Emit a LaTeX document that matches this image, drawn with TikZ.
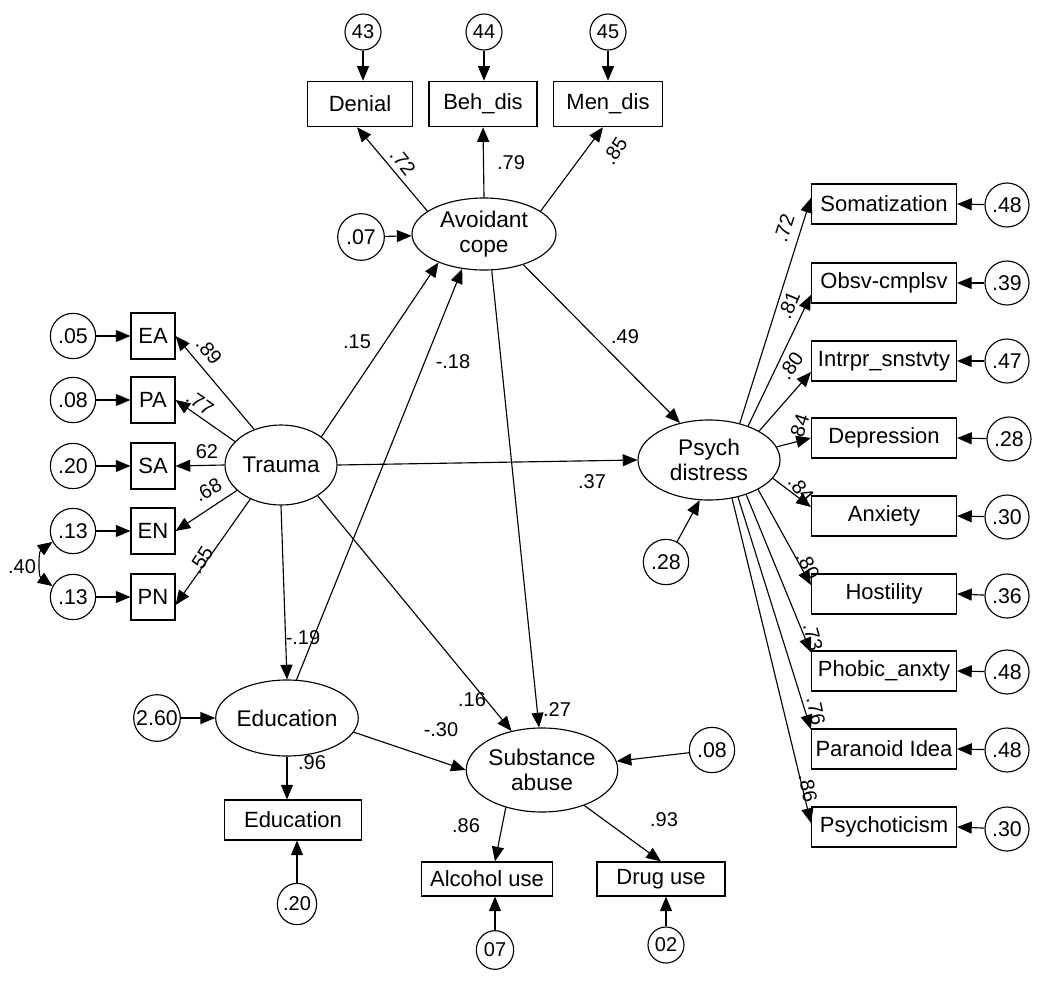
\documentclass[tikz,border=0pt]{standalone}
\usepackage{fontspec}
\setmainfont{Liberation Sans}
\usetikzlibrary{shapes.geometric,arrows.meta,calc}
\begin{document}
\begin{tikzpicture}[x=0.75pt,y=-0.75pt,
  obs/.style={draw,rectangle,inner sep=0pt,line width=0.85pt,font=\fontsize{16.5}{18}\selectfont},
  lat/.style={draw,ellipse,inner sep=0pt,line width=0.85pt,align=center,font=\fontsize{17}{18.5}\selectfont},
  err/.style={draw,circle,inner sep=0pt,line width=0.85pt,minimum size=34pt,font=\fontsize{16}{18}\selectfont},
  errs/.style={draw,ellipse,inner sep=0pt,line width=0.85pt,font=\fontsize{15}{17}\selectfont},
  arr/.style={-{Triangle[length=11pt,width=9pt]},line width=0.85pt},
  darr/.style={{Triangle[length=11pt,width=9pt]}-{Triangle[length=11pt,width=9pt]},line width=0.85pt},
  lab/.style={inner sep=0pt,font=\fontsize{15}{17}\selectfont}
]
\useasboundingbox (0,0) rectangle (1050,985);

% ---------- top: avoidant coping indicators ----------
\node[err,minimum size=27pt,font=\fontsize{15}{17}\selectfont] (c43) at (363,32) {43};
\node[err,minimum size=27pt,font=\fontsize{15}{17}\selectfont] (c44) at (484,32) {44};
\node[err,minimum size=27pt,font=\fontsize{15}{17}\selectfont] (c45) at (608,32) {45};
\node[obs,minimum width=79pt,minimum height=34pt] (denial) at (360,104) {Denial};
\node[obs,minimum width=81pt,minimum height=34pt] (behdis) at (483,104) {Beh\_dis};
\node[obs,minimum width=82pt,minimum height=34pt] (mendis) at (608,104) {Men\_dis};
\node[lat,minimum width=108pt,minimum height=54pt] (avoid) at (484,234) {Avoidant\\cope};
\node[err,minimum size=35pt] (e07) at (361,237) {.07};

\draw[arr] (c43) -- (c43 |- denial.north);
\draw[arr] (c44) -- (c44 |- behdis.north);
\draw[arr] (c45) -- (c45 |- mendis.north);
\draw[arr] (avoid.158) -- ($(denial.south)+(-3,0)$);
\draw[arr] (avoid.north) -- (behdis.south);
\draw[arr] (avoid.22) -- ($(mendis.south)+(-5,0)$);
\draw[arr] (e07) -- (avoid);
\node[lab,rotate=-52] (l72a) at (403,162) {.72};
\node[lab] (l79) at (511,163) {.79};
\node[lab,rotate=57] (l85) at (615,151) {.85};

% ---------- left: trauma indicators ----------
\node[lat,minimum width=84pt,minimum height=60pt] (trauma) at (281,465) {Trauma};
\node[obs,minimum width=33pt,minimum height=34.5pt] (ea) at (153,336) {EA};
\node[obs,minimum width=33pt,minimum height=34.5pt] (pa) at (153,400) {PA};
\node[obs,minimum width=33pt,minimum height=34.5pt] (sa) at (153,466) {SA};
\node[obs,minimum width=33pt,minimum height=34.5pt] (en) at (153,531) {EN};
\node[obs,minimum width=33pt,minimum height=34.5pt] (pn) at (153,597) {PN};
\node[err] (e1) at (73,336) {.05};
\node[err] (e2) at (73,400) {.08};
\node[err] (e3) at (73,466) {.20};
\node[err] (e4) at (73,531) {.13};
\node[err] (e5) at (73,597) {.13};
\draw[arr] (e1) -- (ea);
\draw[arr] (e2) -- (pa);
\draw[arr] (e3) -- (sa);
\draw[arr] (e4) -- (en);
\draw[arr] (e5) -- (pn);
\draw[arr] (trauma.127) -- (ea.east);
\draw[arr] (trauma.153) -- (pa.east);
\draw[arr] (trauma.west) -- (sa.east);
\draw[arr] (trauma.210) -- (en.east);
\draw[arr] (trauma.228) -- ($(pn.east)+(0,8)$);
\draw[darr] (e4.208) to[bend right=55] (e5.152);
\node[lab,rotate=-50] (l89) at (209,351) {.89};
\node[lab,rotate=-35] (l77) at (200,403) {.77};
\node[lab] (l62) at (207,452) {62};
\node[lab,rotate=30] (l68) at (208,490) {.68};
\node[lab,rotate=58] (l55) at (201,560) {.55};
\node[lab] (l40) at (22,567) {.40};

% ---------- centre: structural paths ----------
\node[lat,minimum width=106.5pt,minimum height=60pt] (psych) at (709,460) {Psych\\distress};
\node[err] (e28) at (666,562) {.28};
\node[lat,minimum width=93pt,minimum height=57pt] (educ) at (287,718) {Education};
\node[err,minimum size=35pt] (e260) at (157,718) {2.60};
\node[lat,minimum width=110pt,minimum height=63pt] (subst) at (542,770) {Substance\\abuse};
\node[err] (e08) at (712,750) {.08};
\node[obs,minimum width=103pt,minimum height=30pt] (educbox) at (293,820) {Education};
\node[errs,minimum width=28pt,minimum height=31pt] (e20) at (297,904) {.20};
\node[obs,minimum width=98pt,minimum height=25.5pt] (alcohol) at (487,879) {Alcohol use};
\node[obs,minimum width=96pt,minimum height=25.5pt] (drug) at (661,879) {Drug use};
\node[errs,minimum width=28pt,minimum height=29pt] (e07b) at (495,950) {07};
\node[errs,minimum width=27pt,minimum height=27pt] (e02) at (666,945) {02};

\draw[arr] (trauma.35) -- (avoid.212);
\draw[arr] (educ.76) -- (avoid.238);
\draw[arr] (avoid.282) -- (subst.94);
\draw[arr] (avoid.-38) -- (psych.128);
\draw[arr] (trauma.east) -- (psych.west);
\draw[arr] (trauma.south) -- (educ.north);
\draw[arr] (trauma.-40) -- (subst.128);
\draw[arr] (educ.-12) -- (subst.west);
\draw[arr] (e28) -- (psych.257);
\draw[arr] (e260) -- (educ);
\draw[arr] (educ) -- (educ |- educbox.north);
\draw[arr] (e20) -- (e20 |- educbox.south);
\draw[arr] (e08) -- (subst);
\draw[arr] (subst.226) -- ($(alcohol.north)+(8,0)$);
\draw[arr] (subst.-40) -- (drug.north);
\draw[arr] (e07b) -- (e07b |- alcohol.south);
\draw[arr] (e02) -- (e02 |- drug.south);

\node[lab] (l15) at (357,342) {.15};
\node[lab] (l18) at (453,362) {-.18};
\node[lab] (l49) at (625,337) {.49};
\node[lab] (l37) at (592,482) {.37};
\node[lab] (l19) at (303,638) {-.19};
\node[lab] (l16) at (472,700) {.16};
\node[lab] (l27) at (557,710) {.27};
\node[lab] (l30) at (441,730) {-.30};
\node[lab] (l96) at (312,763) {.96};
\node[lab] (l86) at (466,826) {.86};
\node[lab] (l93) at (664,820) {.93};

% ---------- right: psychological distress indicators ----------
\node[obs,minimum width=108.75pt,minimum height=30pt] (somat) at (884,204) {Somatization};
\node[obs,minimum width=108.75pt,minimum height=30pt] (obsv) at (884,283) {Obsv-cmplsv};
\node[obs,minimum width=108.75pt,minimum height=30pt] (intr) at (884,361) {Intrpr\_snstvty};
\node[obs,minimum width=108.75pt,minimum height=30pt] (depr) at (884,438) {Depression};
\node[obs,minimum width=108.75pt,minimum height=30pt] (anx) at (884,516) {Anxiety};
\node[obs,minimum width=108.75pt,minimum height=30pt] (host) at (884,594) {Hostility};
\node[obs,minimum width=108.75pt,minimum height=30pt] (phob) at (884,671) {Phobic\_anxty};
\node[obs,minimum width=108.75pt,minimum height=30pt] (para) at (884,749) {Paranoid Idea};
\node[obs,minimum width=108.75pt,minimum height=30pt] (psyc) at (884,827) {Psychoticism};
\node[err,minimum size=33pt] (r1) at (1007,205) {.48};
\node[err,minimum size=33pt] (r2) at (1007,283) {.39};
\node[err,minimum size=33pt] (r3) at (1007,361) {.47};
\node[err,minimum size=33pt] (r4) at (1009,439) {.28};
\node[err,minimum size=33pt] (r5) at (1007,517) {.30};
\node[err,minimum size=33pt] (r6) at (1007,596) {.36};
\node[err,minimum size=33pt] (r7) at (1007,672) {.48};
\node[err,minimum size=33pt] (r8) at (1007,750) {.48};
\node[err,minimum size=33pt] (r9) at (1007,829) {.30};
\draw[arr] (r1) -- (somat.east);
\draw[arr] (r2) -- (obsv.east);
\draw[arr] (r3) -- (intr.east);
\draw[arr] (r4) -- (depr.east);
\draw[arr] (r5) -- (anx.east);
\draw[arr] (r6) -- (host.east);
\draw[arr] (r7) -- (phob.east);
\draw[arr] (r8) -- (para.east);
\draw[arr] (r9) -- (psyc.east);

\draw[arr] (psych.50) -- ($(somat.west)+(0,-6)$);
\draw[arr] (psych.41) -- ($(obsv.west)+(0,12)$);
\draw[arr] (psych.30) -- ($(intr.west)+(0,11)$);
\draw[arr] (psych.11) -- (depr.west);
\draw[arr] (psych.-16) -- ($(anx.west)+(0,-9)$);
\draw[arr] (psych.-31) -- ($(host.west)+(0,-9)$);
\draw[arr] (psych.-43) -- ($(phob.north west)+(0,2)$);
\draw[arr] (psych.-52) -- ($(para.north west)+(0,1)$);
\draw[arr] (psych.-59) -- ($(psyc.west)+(0,-4)$);

\node[lab,rotate=72] (r72) at (784,228) {.72};
\node[lab,rotate=67] (r81) at (789,305) {.81};
\node[lab,rotate=55] (r80a) at (791,366) {.80};
\node[lab,rotate=72] (r84a) at (799,428) {.84};
\node[lab,rotate=-50] (r84b) at (801,489) {.84};
\node[lab,rotate=-62] (r80b) at (808,566) {.80};
\node[lab,rotate=-75] (r73) at (813,637) {.73};
\node[lab,rotate=-78] (r76) at (816,711) {.76};
\node[lab,rotate=-78] (r86) at (808,788) {.86};
\end{tikzpicture}
\end{document}
